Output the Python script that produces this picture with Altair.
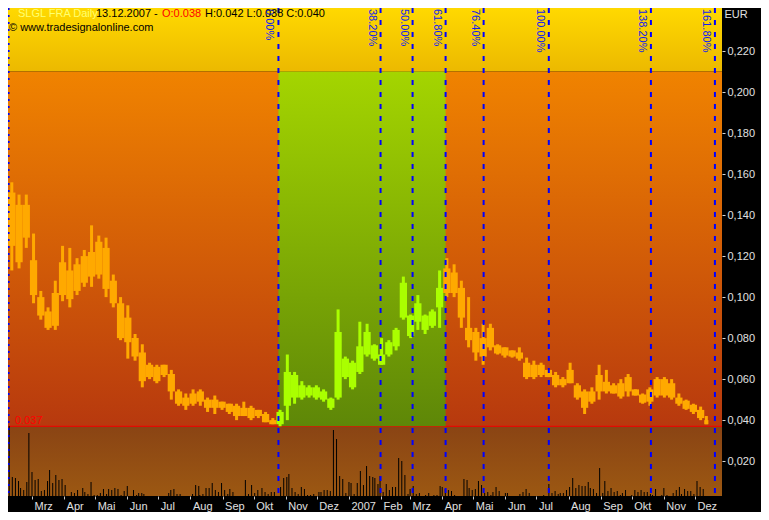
import altair as alt
import pandas as pd

# ---------------- data ----------------
# weekly price bars (EUR) starting with the week of 2006-02-06
first_week = "2006-02-06"
last_bar_end = "2007-12-14"
week_high = [0.156, 0.150, 0.150, 0.131, 0.103, 0.095, 0.108, 0.125, 0.124, 0.119,
             0.123, 0.135, 0.130, 0.129, 0.111, 0.100, 0.096, 0.082, 0.077, 0.068,
             0.067, 0.067, 0.0645, 0.055, 0.053, 0.055, 0.055, 0.051, 0.052, 0.049,
             0.048, 0.048, 0.049, 0.047, 0.045, 0.044, 0.041, 0.045, 0.072, 0.0635,
             0.059, 0.057, 0.057, 0.055, 0.051, 0.094, 0.071, 0.069, 0.088, 0.087,
             0.077, 0.080, 0.079, 0.085, 0.110, 0.0915, 0.101, 0.0915, 0.094, 0.113,
             0.119, 0.116, 0.108, 0.100, 0.085, 0.087, 0.087, 0.077, 0.0755, 0.074,
             0.0755, 0.0705, 0.069, 0.068, 0.0645, 0.0635, 0.061, 0.068, 0.058, 0.055,
             0.056, 0.067, 0.0645, 0.058, 0.060, 0.0625, 0.055, 0.053, 0.056, 0.061,
             0.061, 0.060, 0.053, 0.050, 0.048, 0.0466, 0.042]
week_low = [0.113, 0.114, 0.124, 0.097, 0.089, 0.084, 0.084, 0.098, 0.095, 0.101,
            0.105, 0.105, 0.109, 0.100, 0.095, 0.079, 0.070, 0.069, 0.056, 0.060,
            0.058, 0.061, 0.050, 0.047, 0.045, 0.047, 0.047, 0.044, 0.043, 0.045,
            0.043, 0.040, 0.042, 0.040, 0.041, 0.039, 0.038, 0.037, 0.040, 0.048,
            0.050, 0.051, 0.050, 0.049, 0.045, 0.050, 0.060, 0.055, 0.0625, 0.071,
            0.069, 0.067, 0.071, 0.074, 0.089, 0.080, 0.084, 0.082, 0.085, 0.085,
            0.100, 0.100, 0.085, 0.0755, 0.069, 0.067, 0.074, 0.072, 0.0705, 0.0705,
            0.069, 0.060, 0.060, 0.061, 0.061, 0.056, 0.056, 0.058, 0.050, 0.043,
            0.048, 0.050, 0.053, 0.053, 0.0505, 0.0515, 0.052, 0.048, 0.047, 0.051,
            0.051, 0.050, 0.047, 0.045, 0.043, 0.040, 0.038]
body_top = [0.151, 0.145, 0.145, 0.118, 0.100, 0.093, 0.102, 0.117, 0.113, 0.116,
            0.120, 0.122, 0.127, 0.124, 0.108, 0.097, 0.090, 0.080, 0.073, 0.067,
            0.066, 0.067, 0.0625, 0.054, 0.051, 0.053, 0.054, 0.050, 0.050, 0.049,
            0.048, 0.047, 0.046, 0.046, 0.045, 0.043, 0.040, 0.044, 0.0635, 0.062,
            0.057, 0.056, 0.056, 0.054, 0.0505, 0.083, 0.070, 0.068, 0.076, 0.083,
            0.0765, 0.072, 0.078, 0.084, 0.107, 0.091, 0.097, 0.091, 0.093, 0.1045,
            0.114, 0.112, 0.1045, 0.085, 0.083, 0.080, 0.085, 0.0765, 0.0755, 0.074,
            0.073, 0.068, 0.067, 0.067, 0.0645, 0.062, 0.060, 0.0645, 0.057, 0.054,
            0.054, 0.062, 0.0587, 0.057, 0.058, 0.061, 0.055, 0.0525, 0.055, 0.060,
            0.060, 0.058, 0.051, 0.0495, 0.0475, 0.045, 0.040]
body_bottom = [0.125, 0.117, 0.129, 0.101, 0.091, 0.085, 0.086, 0.101, 0.099, 0.103,
               0.107, 0.110, 0.111, 0.104, 0.097, 0.080, 0.078, 0.071, 0.059, 0.061,
               0.059, 0.062, 0.054, 0.048, 0.047, 0.048, 0.049, 0.046, 0.046, 0.046,
               0.044, 0.042, 0.042, 0.041, 0.042, 0.039, 0.038, 0.038, 0.047, 0.051,
               0.051, 0.052, 0.051, 0.050, 0.046, 0.051, 0.061, 0.056, 0.0635, 0.072,
               0.070, 0.067, 0.072, 0.076, 0.090, 0.081, 0.088, 0.084, 0.086, 0.095,
               0.102, 0.102, 0.090, 0.079, 0.073, 0.071, 0.0755, 0.0725, 0.0715, 0.071,
               0.070, 0.061, 0.061, 0.062, 0.061, 0.057, 0.057, 0.058, 0.051, 0.046,
               0.049, 0.054, 0.054, 0.053, 0.0515, 0.054, 0.052, 0.0485, 0.049, 0.052,
               0.052, 0.051, 0.048, 0.0455, 0.044, 0.041, 0.038]

# volume: (days after 2006-02-01, volume)
volume_origin = "2006-02-01"
volume_bars = [
    (0, 63), (3, 100), (6, 70), (9, 19), (12, 18), (15, 15), (17, 8), (20, 6), (23, 14), (25, 63),
    (28, 24), (31, 16), (34, 17), (37, 5), (40, 6), (43, 15), (45, 26), (48, 13), (51, 21), (54, 16),
    (57, 17), (60, 11), (66, 4), (69, 3), (72, 6), (77, 8), (79, 4), (82, 2), (85, 14), (88, 1),
    (91, 1), (94, 3), (97, 7), (100, 2), (102, 7), (105, 6), (108, 8), (111, 7), (114, 1), (117, 5),
    (120, 10), (126, 6), (129, 1), (131, 3), (134, 3), (136, 2), (160, 3), (162, 6), (165, 7), (168, 2),
    (171, 2), (183, 2), (186, 11), (189, 10), (190, 1), (193, 2), (196, 8), (199, 8), (202, 13), (205, 6),
    (208, 4), (211, 13), (214, 6), (217, 2), (219, 7), (222, 4), (234, 16), (237, 2), (240, 11), (243, 3),
    (246, 6), (250, 8), (253, 4), (256, 2), (259, 4), (262, 4), (268, 9), (271, 18), (274, 19), (276, 22),
    (279, 8), (282, 4), (285, 2), (288, 9), (291, 7), (294, 1), (297, 1), (300, 2), (305, 4), (307, 4),
    (310, 6), (313, 6), (316, 5), (319, 66), (322, 57), (325, 20), (328, 17), (331, 3), (334, 14), (336, 13),
    (339, 2), (342, 13), (345, 25), (348, 11), (351, 30), (354, 20), (357, 19), (359, 18), (362, 12), (364, 20),
    (367, 4), (370, 12), (373, 6), (376, 9), (379, 9), (382, 38), (385, 35), (388, 21), (391, 2), (393, 7),
    (396, 10), (399, 2), (402, 3), (408, 1), (411, 3), (416, 1), (419, 1), (422, 10), (424, 9), (427, 7),
    (430, 6), (433, 5), (436, 1), (445, 17), (448, 16), (450, 8), (453, 6), (456, 7), (459, 15), (462, 11),
    (465, 3), (468, 4), (471, 1), (473, 4), (476, 9), (479, 5), (485, 3), (487, 3), (499, 2), (502, 4),
    (505, 7), (508, 3), (522, 1), (527, 12), (530, 3), (533, 5), (536, 2), (538, 3), (541, 3), (544, 6),
    (547, 9), (550, 18), (553, 8), (556, 11), (559, 10), (562, 10), (565, 14), (567, 8), (570, 7), (573, 3),
    (576, 28), (579, 3), (581, 15), (584, 5), (587, 8), (590, 4), (593, 5), (596, 1), (598, 3), (601, 6),
    (607, 1), (610, 6), (613, 4), (616, 6), (619, 4), (622, 4), (625, 2), (627, 1), (630, 7), (636, 1),
    (638, 8), (641, 1), (647, 3), (650, 6), (653, 9), (655, 2), (658, 7), (661, 5), (664, 5), (667, 2),
    (670, 15), (673, 9), (676, 7),
]

# Fibonacci time extension lines
fib_labels = ["0.00%", "38.20%", "50.00%", "61.80%", "76.40%", "100.00%", "138.20%", "161.80%"]
fib_dates = ["2006-10-24T22:00", "2007-01-31T12:00", "2007-03-03T10:00", "2007-04-04T07:00",
             "2007-05-11T00:00", "2007-07-12T22:00", "2007-10-19T12:00", "2007-12-20T07:00"]
marker_date = "2006-02-06T09:00"

upper_level = 0.210
low_level = 0.037
low_label = "0.037"
low_label_date = "2006-02-12T14:00"
y_ticks = [0.02, 0.04, 0.06, 0.08, 0.10, 0.12, 0.14, 0.16, 0.18, 0.20, 0.22]
plot_start = "2006-02-05T20:00"
plot_end = "2007-12-27T03:00"
y_min, y_max = 0.003, 0.241

# ---------------- frames ----------------
starts = pd.date_range(first_week, periods=len(week_high), freq="7D")
price = pd.DataFrame({"start": starts, "high": week_high, "low": week_low,
                      "btop": body_top, "bbot": body_bottom})
price["end"] = price["start"] + pd.Timedelta(days=7)
price.loc[price.index[-1], "end"] = pd.Timestamp(last_bar_end)
price["mid"] = price["start"] + (price["end"] - price["start"]) / 2
f0 = pd.Timestamp(fib_dates[0])
f618 = pd.Timestamp(fib_dates[3])
price["zone"] = ["green" if (f0 <= m < f618) else "orange" for m in price["mid"]]

vol = pd.DataFrame(volume_bars, columns=["day", "volume"])
vol["date"] = pd.Timestamp(volume_origin) + pd.to_timedelta(vol["day"], unit="D")

fib = pd.DataFrame({"date": pd.to_datetime(fib_dates), "label": fib_labels})
marker = pd.DataFrame({"date": [pd.Timestamp(marker_date)]})

ps, pe = pd.Timestamp(plot_start), pd.Timestamp(plot_end)
band_top = pd.DataFrame({"s": [ps], "e": [pe], "y": [y_max], "y2": [upper_level]})
band_mid = pd.DataFrame({"s": [ps], "e": [pe], "y": [upper_level], "y2": [low_level]})
band_green = pd.DataFrame({"s": [f0], "e": [f618], "y": [upper_level], "y2": [low_level]})
band_low = pd.DataFrame({"s": [ps], "e": [pe], "y": [low_level], "y2": [y_min]})
level = pd.DataFrame({"level": [low_level], "s": [ps], "e": [pe],
                      "date": [pd.Timestamp(low_label_date)], "t": [low_label]})

months = [(2006, m) for m in range(2, 13)] + [(2007, m) for m in range(1, 13)]
month_ticks = [alt.DateTime(year=y, month=m, date=1) for y, m in months]

FONT = "Liberation Sans"
xs = alt.Scale(domain=[alt.DateTime(year=2006, month=2, date=5, hours=20),
                       alt.DateTime(year=2007, month=12, date=27, hours=3)])
ys = alt.Scale(domain=[y_min, y_max], nice=False, zero=False)


def vgrad(top, bottom):
    return alt.Gradient(gradient="linear",
                        stops=[alt.GradientStop(color=top, offset=0),
                               alt.GradientStop(color=bottom, offset=1)],
                        x1=0, x2=0, y1=0, y2=1)


x_axis = alt.Axis(values=month_ticks,
                  labelExpr="month(datum.value) == 0 ? timeFormat(datum.value, '%Y') : "
                            "['Jan','Feb','Mrz','Apr','Mai','Jun','Jul','Aug','Sep','Okt','Nov','Dez'][month(datum.value)]",
                  tickSize=3, tickColor="#C8C8C8", labelColor="#E0E0E0", labelAlign="left",
                  labelBaseline="top", labelPadding=1, labelOffset=2, domain=False, grid=False,
                  title=None, labelFlush=False, labelOverlap=False, labelFont=FONT, labelFontSize=11)
y_axis = alt.Axis(orient="right", values=y_ticks,
                  labelExpr="replace(format(datum.value, '.3f'), '.', ',')",
                  tickSize=3, tickColor="#D8D8D8", labelColor="#E0E0E0", labelFont=FONT,
                  labelFontSize=11, labelPadding=2, domain=False, grid=False,
                  title="EUR", titleAngle=0, titleAlign="left", titleBaseline="alphabetic",
                  titleX=2, titleY=9, titleColor="#E0E0E0", titleFont=FONT, titleFontSize=11,
                  titleFontWeight="normal", labelFlush=False, labelOverlap=False)


def X(field):
    return alt.X(field, scale=xs, axis=x_axis, title=None)


def band(df, grad):
    return alt.Chart(df).mark_rect(color=grad).encode(
        x=X("s:T"), x2="e:T",
        y=alt.Y("y:Q", scale=ys, axis=y_axis), y2="y2:Q",
    )


top_band = band(band_top, vgrad("#FFD900", "#ECB900"))
mid_band = band(band_mid, vgrad("#F08300", "#B7390E"))
low_band = band(band_low, vgrad("#8A4414", "#9C5812"))
red_line = alt.Chart(level).mark_rule(color="#FF0000", strokeWidth=1).encode(
    x=X("s:T"), x2="e:T", y=alt.Y("level:Q", scale=ys, axis=y_axis))
green_band = band(band_green, vgrad("#A4D500", "#5E8708"))

bg = alt.layer(top_band, mid_band, low_band, red_line, green_band)

vol_chart = alt.Chart(vol).mark_rule(color="#000000", strokeWidth=1).encode(
    x=X("date:T"),
    y=alt.Y("volume:Q", scale=alt.Scale(domain=[0, 488], nice=False, zero=True), axis=None),
    y2=alt.datum(0),
)

zone_color = alt.Color("zone:N", scale=alt.Scale(domain=["orange", "green"],
                                                 range=["#FFA900", "#AAFF00"]), legend=None)
wicks = alt.Chart(price).mark_rule(strokeWidth=3).encode(
    x=X("mid:T"), y=alt.Y("low:Q", scale=ys, axis=None), y2="high:Q", color=zone_color)
bodies = alt.Chart(price).mark_rect().encode(
    x=X("start:T"), x2="end:T",
    y=alt.Y("bbot:Q", scale=ys, axis=None), y2="btop:Q", color=zone_color)

fib_lines = alt.Chart(fib).mark_rule(color="#0000FF", strokeWidth=2, strokeDash=[5, 7]).encode(
    x=X("date:T"))
marker_line = alt.Chart(marker).mark_rule(color="#0000FF", strokeWidth=2, strokeDash=[2, 5]).encode(
    x=X("date:T"))
fib_text = alt.Chart(fib).mark_text(angle=90, align="left", baseline="top", dy=3,
                                    color="#1020F0", font=FONT, fontSize=11).encode(
    x=X("date:T"), y=alt.value(1), text="label:N")

low_text = alt.Chart(level).mark_text(align="left", baseline="alphabetic", dy=-2,
                                      color="#FF0000", font=FONT, fontSize=11).encode(
    x=X("date:T"), y=alt.Y("level:Q", scale=ys, axis=None), text="t:N")


def htext(s, px, py, color):
    return alt.Chart(pd.DataFrame({"t": [s]})).mark_text(
        align="left", baseline="alphabetic", color=color, font=FONT, fontSize=11).encode(
        x=alt.value(px), y=alt.value(py), text="t:N")


header = [
    htext("SLGL FRA Daily", 10, 9, "#FFFF70"),
    htext("13.12.2007 -", 88, 9, "#000000"),
    htext("O:0.038", 154, 9, "#FF0000"),
    htext("H:0.042 L:0.038 C:0.040", 197, 9, "#000000"),
    htext("\u00a9 www.tradesignalonline.com", 1, 23, "#000000"),
]

fg = alt.layer(wicks, bodies, fib_lines, marker_line, fib_text, low_text, *header)

chart = alt.layer(bg, vol_chart, fg).resolve_scale(y="independent").properties(
    width=714, height=488,
    background="#000000",
    padding={"left": 0, "top": 0, "right": 39, "bottom": 16},
    autosize=alt.AutoSizeParams(type="none"),
).configure_view(stroke=None)

chart.save("out.html", embed_options={"renderer": "svg", "actions": False})
